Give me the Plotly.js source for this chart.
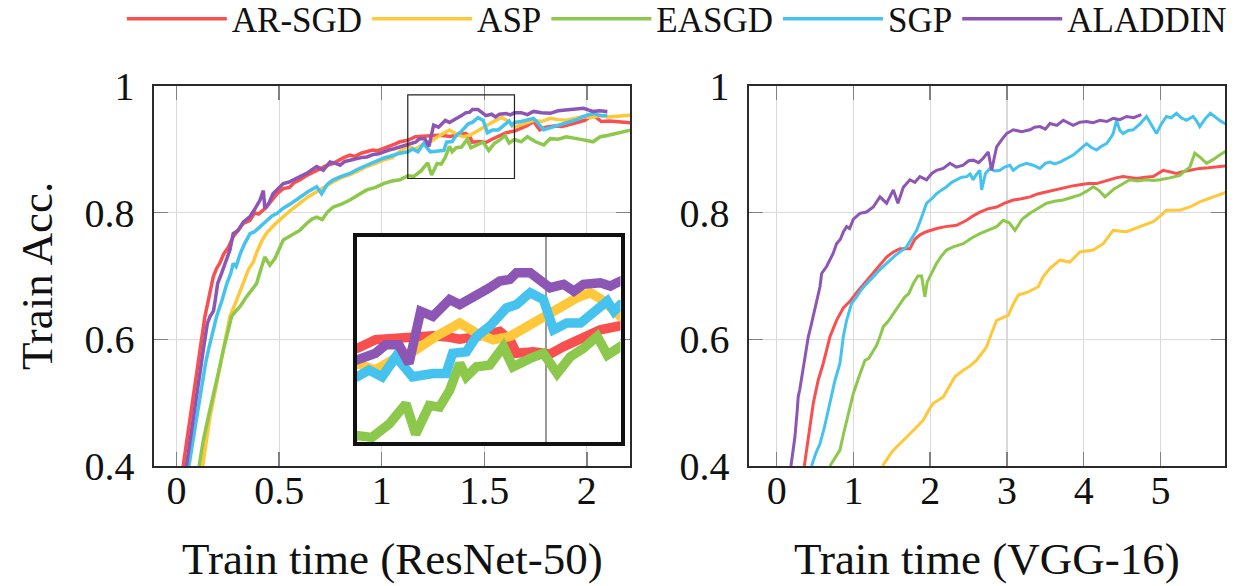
<!DOCTYPE html>
<html>
<head>
<meta charset="utf-8">
<script src="https://cdn.plot.ly/plotly-3.0.1.min.js"></script>
<style>
html,body{margin:0;padding:0;background:#fff}
#chart{width:1243px;height:586px}
#chart svg text{font-family:"Liberation Serif","DejaVu Serif",serif !important;}
</style>
</head>
<body>
<div id="chart"></div>
<script>
// ---- series meta ----
const seriesNames = ['AR-SGD', 'ASP', 'EASGD', 'SGP', 'ALADDIN'];
const seriesColors = ['#F94F4F', '#FFC83A', '#8CC84B', '#45C3EE', '#8D55B4'];

// ---- tick labels ----
const resnetTickVals = [0, 0.5, 1, 1.5, 2];
const resnetTickText = ['0', '0.5', '1', '1.5', '2'];
const vggTickVals = [0, 1, 2, 3, 4, 5];
const vggTickText = ['0', '1', '2', '3', '4', '5'];
const accTickVals = [0.4, 0.6, 0.8, 1];
const accTickText = ['0.4', '0.6', '0.8', '1'];

// ---- ResNet-50 ----
const resnetArsgdX = [0.032,0.05,0.065,0.08,0.09,0.102,0.114,0.126,0.138,0.155,0.168,0.179,0.195,0.21,0.23,0.252,0.276,0.30,0.325,0.358,0.38,0.40,0.439,0.46,0.49,0.52,0.55,0.575,0.602,0.63,0.655,0.683,0.71,0.735,0.764,0.79,0.815,0.845,0.87,0.90,0.927,0.955,0.98,1.008,1.035,1.06,1.089,1.11,1.128,1.164,1.21,1.243,1.277,1.31,1.33,1.363,1.409,1.429,1.442,1.475,1.508,1.535,1.574,1.607,1.647,1.68,1.71,1.74,1.77,1.80,1.84,1.88,1.92,1.96,1.99,2.03,2.07,2.11,2.15,2.19,2.22];
const resnetArsgdY = [0.40,0.44,0.478,0.51,0.53,0.56,0.583,0.61,0.636,0.662,0.68,0.699,0.712,0.72,0.735,0.745,0.762,0.772,0.783,0.788,0.80,0.798,0.809,0.818,0.830,0.838,0.84,0.848,0.852,0.858,0.862,0.867,0.87,0.875,0.878,0.883,0.887,0.891,0.889,0.894,0.896,0.899,0.898,0.902,0.905,0.908,0.912,0.913,0.9145,0.92,0.921,0.922,0.9225,0.9216,0.9204,0.922,0.9253,0.92,0.9113,0.9123,0.9108,0.9156,0.921,0.9264,0.929,0.933,0.938,0.944,0.931,0.935,0.937,0.936,0.940,0.944,0.946,0.955,0.944,0.945,0.944,0.942,0.942];

const resnetAspX = [0.127,0.145,0.163,0.18,0.195,0.21,0.228,0.245,0.26,0.293,0.325,0.35,0.374,0.39,0.415,0.439,0.48,0.52,0.56,0.602,0.64,0.683,0.72,0.764,0.80,0.845,0.885,0.927,0.97,1.008,1.05,1.089,1.128,1.164,1.197,1.243,1.283,1.33,1.363,1.396,1.429,1.462,1.495,1.528,1.561,1.588,1.614,1.647,1.68,1.74,1.78,1.821,1.86,1.90,1.94,1.984,2.02,2.065,2.10,2.146,2.22];
const resnetAspY = [0.40,0.44,0.478,0.505,0.53,0.556,0.583,0.61,0.636,0.662,0.688,0.71,0.722,0.737,0.755,0.768,0.782,0.794,0.805,0.815,0.825,0.833,0.841,0.849,0.855,0.86,0.866,0.873,0.878,0.883,0.887,0.897,0.9048,0.9005,0.907,0.9134,0.9221,0.9307,0.9243,0.9199,0.9221,0.9286,0.935,0.9415,0.9469,0.9502,0.9448,0.935,0.939,0.946,0.944,0.949,0.947,0.946,0.949,0.952,0.95,0.954,0.951,0.952,0.954];

const resnetEasgdX = [0.11,0.13,0.155,0.175,0.195,0.21,0.228,0.25,0.268,0.29,0.31,0.34,0.39,0.41,0.43,0.455,0.48,0.52,0.57,0.60,0.634,0.66,0.683,0.71,0.735,0.764,0.80,0.845,0.885,0.927,0.97,1.008,1.05,1.089,1.128,1.157,1.191,1.224,1.243,1.27,1.29,1.31,1.33,1.343,1.363,1.389,1.416,1.435,1.469,1.495,1.522,1.548,1.574,1.601,1.621,1.647,1.68,1.71,1.75,1.79,1.821,1.86,1.90,1.94,1.984,2.03,2.065,2.10,2.146,2.18,2.22];
const resnetEasgdY = [0.40,0.44,0.478,0.505,0.53,0.556,0.583,0.61,0.636,0.645,0.652,0.667,0.688,0.71,0.73,0.717,0.728,0.757,0.767,0.772,0.783,0.79,0.793,0.789,0.801,0.809,0.813,0.82,0.828,0.836,0.84,0.846,0.85,0.852,0.8584,0.8573,0.8659,0.8789,0.8594,0.8778,0.8767,0.8875,0.9048,0.8962,0.9026,0.9037,0.9156,0.9026,0.908,0.9113,0.8983,0.9091,0.9145,0.9221,0.9102,0.9156,0.912,0.92,0.912,0.907,0.917,0.916,0.92,0.917,0.915,0.912,0.92,0.922,0.925,0.927,0.931];

const resnetSgpX = [0.06,0.08,0.098,0.11,0.122,0.14,0.155,0.175,0.195,0.22,0.245,0.265,0.276,0.29,0.31,0.33,0.358,0.38,0.407,0.439,0.465,0.49,0.52,0.56,0.602,0.64,0.683,0.707,0.735,0.764,0.80,0.845,0.885,0.927,0.97,1.008,1.05,1.089,1.128,1.151,1.177,1.204,1.237,1.277,1.303,1.316,1.343,1.363,1.389,1.422,1.442,1.469,1.495,1.515,1.541,1.568,1.594,1.621,1.634,1.647,1.68,1.74,1.79,1.84,1.90,1.95,1.984,2.03,2.07,2.10];
const resnetSgpY = [0.40,0.44,0.478,0.505,0.53,0.56,0.583,0.61,0.636,0.66,0.688,0.705,0.72,0.715,0.735,0.75,0.767,0.77,0.778,0.788,0.795,0.799,0.807,0.815,0.825,0.833,0.841,0.83,0.845,0.852,0.857,0.862,0.869,0.875,0.881,0.886,0.89,0.894,0.8962,0.9005,0.8962,0.9091,0.8962,0.8983,0.8983,0.9113,0.9123,0.9221,0.9286,0.9404,0.9426,0.9502,0.9458,0.9264,0.9307,0.9307,0.9372,0.9448,0.9383,0.9426,0.944,0.949,0.931,0.936,0.941,0.947,0.952,0.957,0.953,0.954];

const resnetAladdinX = [0.048,0.065,0.081,0.094,0.106,0.118,0.13,0.14,0.15,0.163,0.18,0.19,0.2,0.22,0.24,0.26,0.276,0.30,0.325,0.358,0.38,0.407,0.423,0.43,0.45,0.47,0.495,0.52,0.545,0.57,0.60,0.634,0.66,0.683,0.715,0.748,0.775,0.797,0.82,0.845,0.875,0.90,0.927,0.96,0.985,1.008,1.035,1.06,1.089,1.11,1.128,1.164,1.184,1.21,1.23,1.253,1.277,1.31,1.33,1.356,1.389,1.409,1.429,1.442,1.469,1.508,1.535,1.555,1.574,1.607,1.627,1.647,1.68,1.71,1.74,1.78,1.821,1.86,1.90,1.94,1.984,2.01,2.03,2.06,2.10];
const resnetAladdinY = [0.40,0.44,0.478,0.505,0.53,0.556,0.583,0.605,0.625,0.636,0.645,0.665,0.688,0.705,0.722,0.741,0.767,0.772,0.785,0.794,0.805,0.82,0.835,0.807,0.815,0.83,0.838,0.846,0.848,0.852,0.858,0.862,0.868,0.873,0.867,0.88,0.878,0.875,0.881,0.883,0.884,0.887,0.888,0.892,0.893,0.896,0.899,0.901,0.904,0.905,0.907,0.9113,0.9167,0.9167,0.9048,0.9383,0.935,0.9458,0.9426,0.9469,0.9534,0.9577,0.9588,0.9631,0.9631,0.9534,0.9556,0.9512,0.9556,0.9566,0.9545,0.9577,0.958,0.955,0.96,0.958,0.957,0.961,0.962,0.963,0.965,0.962,0.96,0.961,0.96];

// ---- VGG-16 ----
const vggArsgdX = [0.36,0.41,0.477,0.54,0.607,0.694,0.78,0.87,0.954,1.03,1.107,1.2,1.3,1.38,1.432,1.52,1.605,1.735,1.8,1.866,1.95,2.083,2.2,2.343,2.474,2.56,2.648,2.75,2.865,2.97,3.082,3.19,3.299,3.41,3.516,3.62,3.733,3.84,3.95,4.06,4.167,4.3,4.42,4.514,4.6,4.688,4.8,4.905,5.035,5.12,5.208,5.3,5.382,5.512,5.62,5.73,5.85];
const vggArsgdY = [0.40,0.446,0.499,0.535,0.562,0.604,0.63,0.65,0.66,0.672,0.683,0.697,0.71,0.722,0.73,0.738,0.743,0.743,0.758,0.765,0.77,0.775,0.778,0.78,0.788,0.795,0.801,0.806,0.809,0.815,0.82,0.822,0.825,0.83,0.833,0.835,0.838,0.842,0.844,0.846,0.846,0.851,0.855,0.857,0.856,0.854,0.856,0.857,0.867,0.864,0.862,0.865,0.867,0.87,0.871,0.872,0.874];

const vggAspX = [1.38,1.5,1.605,1.7,1.779,1.909,1.98,2.04,2.17,2.25,2.322,2.43,2.52,2.604,2.734,2.8,2.865,3.017,3.08,3.147,3.278,3.408,3.473,3.56,3.69,3.82,3.95,4.124,4.254,4.384,4.558,4.731,4.905,5.0,5.078,5.252,5.4,5.512,5.65,5.85];
const vggAspY = [0.40,0.422,0.435,0.446,0.456,0.472,0.488,0.499,0.509,0.526,0.541,0.551,0.558,0.567,0.588,0.61,0.63,0.638,0.655,0.67,0.675,0.683,0.699,0.712,0.725,0.722,0.738,0.741,0.751,0.772,0.77,0.778,0.786,0.795,0.804,0.804,0.81,0.817,0.823,0.832];

const vggEasgdX = [0.694,0.76,0.824,0.87,0.911,0.955,0.998,1.07,1.15,1.2,1.258,1.3,1.345,1.389,1.45,1.52,1.6,1.67,1.72,1.779,1.84,1.888,1.93,1.96,1.996,2.04,2.083,2.15,2.213,2.3,2.43,2.54,2.648,2.75,2.865,2.952,3.03,3.104,3.2,3.299,3.4,3.516,3.62,3.733,3.84,3.95,4.04,4.124,4.2,4.276,4.4,4.514,4.601,4.7,4.818,4.9,4.992,5.12,5.252,5.32,5.382,5.447,5.512,5.6,5.7,5.78,5.85];
const vggEasgdY = [0.40,0.413,0.425,0.45,0.472,0.495,0.514,0.54,0.567,0.57,0.583,0.59,0.604,0.62,0.628,0.641,0.655,0.667,0.672,0.688,0.70,0.70,0.667,0.69,0.699,0.71,0.72,0.732,0.741,0.746,0.751,0.76,0.767,0.772,0.778,0.788,0.784,0.772,0.79,0.799,0.806,0.815,0.818,0.82,0.824,0.828,0.834,0.841,0.835,0.825,0.838,0.846,0.852,0.85,0.852,0.851,0.852,0.855,0.859,0.866,0.872,0.894,0.888,0.878,0.885,0.892,0.897];

const vggSgpX = [0.455,0.51,0.564,0.62,0.672,0.72,0.759,0.824,0.868,0.911,0.976,1.042,1.1,1.172,1.26,1.345,1.432,1.55,1.692,1.76,1.822,1.88,1.953,2.02,2.083,2.15,2.213,2.28,2.343,2.41,2.474,2.52,2.56,2.6,2.648,2.67,2.72,2.778,2.84,2.908,2.97,3.039,3.082,3.16,3.256,3.34,3.43,3.5,3.56,3.62,3.69,3.78,3.863,3.95,4.037,4.1,4.167,4.23,4.297,4.35,4.384,4.427,4.47,4.514,4.58,4.644,4.73,4.818,4.88,4.948,5.01,5.078,5.14,5.208,5.27,5.338,5.425,5.47,5.512,5.58,5.65,5.72,5.78,5.85];
const vggSgpY = [0.40,0.42,0.435,0.46,0.488,0.512,0.535,0.562,0.604,0.63,0.657,0.667,0.678,0.688,0.70,0.71,0.72,0.733,0.746,0.76,0.772,0.79,0.815,0.822,0.83,0.836,0.841,0.848,0.852,0.856,0.857,0.861,0.852,0.86,0.867,0.836,0.862,0.87,0.866,0.867,0.872,0.875,0.867,0.874,0.878,0.875,0.87,0.878,0.88,0.877,0.88,0.886,0.891,0.9,0.909,0.903,0.899,0.905,0.909,0.918,0.925,0.946,0.93,0.925,0.93,0.931,0.94,0.952,0.94,0.925,0.94,0.952,0.95,0.957,0.95,0.946,0.952,0.945,0.936,0.948,0.957,0.95,0.945,0.94];

const vggAladdinX = [0.186,0.238,0.268,0.281,0.3,0.347,0.38,0.412,0.445,0.477,0.52,0.564,0.586,0.65,0.737,0.78,0.83,0.87,0.911,0.95,1.0,1.085,1.17,1.258,1.345,1.432,1.52,1.58,1.65,1.735,1.8,1.866,1.953,2.02,2.083,2.17,2.257,2.34,2.43,2.5,2.56,2.63,2.69,2.756,2.8,2.865,2.93,2.995,3.082,3.19,3.299,3.36,3.43,3.5,3.56,3.65,3.733,3.863,3.95,4.037,4.12,4.21,4.3,4.384,4.47,4.558,4.65,4.731,4.75];
const vggAladdinY = [0.40,0.446,0.488,0.51,0.52,0.557,0.585,0.604,0.62,0.636,0.657,0.683,0.704,0.715,0.736,0.751,0.758,0.77,0.778,0.775,0.79,0.799,0.801,0.809,0.825,0.815,0.836,0.815,0.84,0.852,0.848,0.857,0.852,0.862,0.867,0.87,0.878,0.872,0.875,0.882,0.883,0.879,0.886,0.896,0.867,0.904,0.915,0.925,0.931,0.928,0.931,0.935,0.936,0.932,0.941,0.938,0.946,0.938,0.943,0.944,0.942,0.946,0.944,0.949,0.947,0.952,0.95,0.954,0.955];

// zoom window shown in the inset (ResNet-50)
const insetXRange = [1.127, 1.647];
const insetYRange = [0.854, 0.986];

const resnetSeries = [[resnetArsgdX, resnetArsgdY], [resnetAspX, resnetAspY], [resnetEasgdX, resnetEasgdY], [resnetSgpX, resnetSgpY], [resnetAladdinX, resnetAladdinY]];
const vggSeries = [[vggArsgdX, vggArsgdY], [vggAspX, vggAspY], [vggEasgdX, vggEasgdY], [vggSgpX, vggSgpY], [vggAladdinX, vggAladdinY]];

const FONT = '"Liberation Serif", "DejaVu Serif", serif';
const traces = [];
resnetSeries.forEach((s, i) => traces.push({
  x: s[0], y: s[1], name: seriesNames[i], type: 'scatter', mode: 'lines',
  line: {color: seriesColors[i], width: 3.5}, xaxis: 'x', yaxis: 'y', showlegend: true, hoverinfo: 'skip'
}));
vggSeries.forEach((s, i) => traces.push({
  x: s[0], y: s[1], name: seriesNames[i], type: 'scatter', mode: 'lines',
  line: {color: seriesColors[i], width: 3}, xaxis: 'x2', yaxis: 'y2', showlegend: false, hoverinfo: 'skip'
}));
resnetSeries.forEach((s, i) => traces.push({
  x: s[0], y: s[1], name: seriesNames[i], type: 'scatter', mode: 'lines',
  line: {color: seriesColors[i], width: 9.5}, xaxis: 'x3', yaxis: 'y3', showlegend: false, hoverinfo: 'skip'
}));

const baseAxis = {
  showline: true, linecolor: '#2a2a2a', linewidth: 1.6, mirror: 'allticks',
  ticks: 'inside', ticklen: 14, tickwidth: 1.5, tickcolor: '#808080',
  showgrid: true, gridcolor: '#dadada', gridwidth: 1.2, zeroline: false,
  tickfont: {family: FONT, size: 40, color: '#111'},
  tickmode: 'array', fixedrange: true
};
const yDomain = [0.2049, 0.8531];

const layout = {
  width: 1243, height: 586,
  margin: {l: 0, r: 0, t: 0, b: 0, pad: 0, autoexpand: false},
  paper_bgcolor: '#ffffff', plot_bgcolor: '#ffffff',
  font: {family: FONT, color: '#111'},
  showlegend: true,
  legend: {orientation: 'h', x: 0.098, xanchor: 'left', y: 1.018, yanchor: 'top',
           font: {family: FONT, size: 35, color: '#111'}, bgcolor: 'rgba(0,0,0,0)',
           itemwidth: 100, traceorder: 'normal', itemclick: false, itemdoubleclick: false},
  xaxis: Object.assign({}, baseAxis, {domain: [0.1239, 0.5068], range: [-0.11, 2.21], tickvals: resnetTickVals, ticktext: resnetTickText, anchor: 'y', ticklabelstandoff: -12}),
  yaxis: Object.assign({}, baseAxis, {domain: yDomain, range: [0.4, 1.0], tickvals: accTickVals, ticktext: accTickText, anchor: 'x', ticklabelstandoff: 10}),
  xaxis2: Object.assign({}, baseAxis, {domain: [0.6026, 0.9855], range: [-0.36, 5.84], tickvals: vggTickVals, ticktext: vggTickText, anchor: 'y2', ticklabelstandoff: -12}),
  yaxis2: Object.assign({}, baseAxis, {domain: yDomain, range: [0.4, 1.0], tickvals: accTickVals, ticktext: accTickText, anchor: 'x2', ticklabelstandoff: 10}),
  xaxis3: {domain: [0.287, 0.4992], range: insetXRange, anchor: 'y3', showticklabels: false, ticks: '',
           tickmode: 'array', tickvals: [1.5], showgrid: true, gridcolor: '#9a9a9a', gridwidth: 1.5,
           showline: true, mirror: true, linewidth: 4, linecolor: '#111', zeroline: false, fixedrange: true},
  yaxis3: {domain: [0.2449, 0.5956], range: insetYRange, anchor: 'x3', showticklabels: false, ticks: '',
           showgrid: false, showline: true, mirror: true, linewidth: 4, linecolor: '#111', zeroline: false, fixedrange: true},
  shapes: [{type: 'rect', xref: 'x', yref: 'y', x0: insetXRange[0], x1: insetXRange[1], y0: insetYRange[0], y1: insetYRange[1],
            line: {color: '#222', width: 1.2}, fillcolor: 'rgba(0,0,0,0)'}],
  annotations: [
    {text: 'Train Acc.', xref: 'paper', yref: 'paper', x: 0.0298, y: 0.529, textangle: -90, showarrow: false,
     xanchor: 'center', yanchor: 'middle', font: {family: FONT, size: 45, color: '#111'}},
    {text: 'Train time (ResNet-50)', xref: 'paper', yref: 'paper', x: 0.3154, y: 0.046, showarrow: false,
     xanchor: 'center', yanchor: 'middle', font: {family: FONT, size: 45, color: '#111'}},
    {text: 'Train time (VGG-16)', xref: 'paper', yref: 'paper', x: 0.794, y: 0.046, showarrow: false,
     xanchor: 'center', yanchor: 'middle', font: {family: FONT, size: 45, color: '#111'}}
  ]
};

Plotly.newPlot('chart', traces, layout, {displayModeBar: false, staticPlot: true});
</script>
</body>
</html>
